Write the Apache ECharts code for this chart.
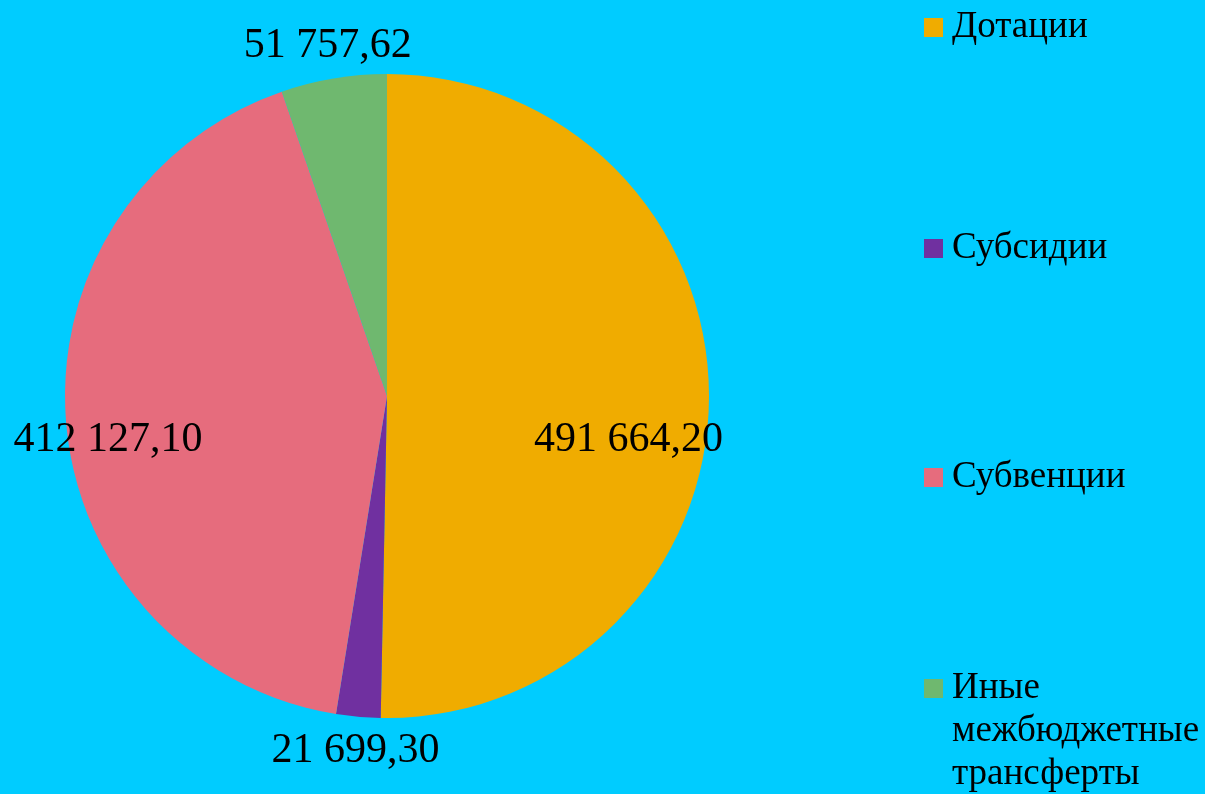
<!DOCTYPE html>
<html>
<head>
<meta charset="utf-8">
<script src="https://cdn.jsdelivr.net/npm/echarts@6/dist/echarts.min.js"></script>
<style>
  html, body { margin: 0; padding: 0; background: #00CCFF; }
  #pieChart { width: 1205px; height: 794px; }
</style>
</head>
<body>
<div id="pieChart"></div>
<script>
// данные диаграммы
var categories = ['Дотации', 'Субсидии', 'Субвенции', 'Иные межбюджетные трансферты'];
var values = [491664.20, 21699.30, 412127.10, 51757.62];
var colors = ['#F0AC00', '#7030A0', '#E66C7D', '#6FB86F'];

// размещение подписей (доля радиуса и сдвиг по вертикали)
var labelRadius = [0.75, 1.1, 0.87, 1.11];
var labelNudge = [42, 2, 20, 2];
// верх каждого пункта легенды
var legendTops = [4, 225, 454, 579];

var cx = 387, cy = 396, r = 322;

function fmt(v) {
	var parts = v.toFixed(2).split('.');
	return parts[0].replace(/\B(?=(\d{3})+(?!\d))/g, ' ') + ',' + parts[1];
}

var total = values.reduce(function (a, b) { return a + b; }, 0);
var midAngles = [];
var acc = 0;
for (var i = 0; i < values.length; i++) {
	midAngles.push((acc + values[i] / 2) / total * 2 * Math.PI);
	acc += values[i];
}

var myChart = echarts.init(document.getElementById('pieChart'));

var legendText = {
	fontSize: 37,
	color: '#000',
	lineHeight: 43,
	padding: [4, 0, 0, 4],
	fontFamily: '"Liberation Serif", serif'
};

// отдельная легенда на каждый пункт
var legends = categories.map(function (c, i) {
	return {
		orient: 'vertical',
		left: 924,
		top: legendTops[i],
		padding: 0,
		itemWidth: 19,
		itemHeight: 19,
		icon: 'rect',
		data: [c],
		formatter: function (name) {
			if (name.indexOf('Иные') === 0) {
				return '\n\nИные\nмежбюджетные\nтрансферты';
			}
			return name;
		},
		textStyle: legendText
	};
});

var option = {
	backgroundColor: '#00CCFF',
	color: colors,
	textStyle: { fontFamily: '"Liberation Serif", "Times New Roman", serif' },
	legend: legends,
	series: [{
		type: 'pie',
		center: [cx, cy],
		radius: [0, r],
		startAngle: 90,
		clockwise: true,
		avoidLabelOverlap: false,
		silent: true,
		data: categories.map(function (c, i) {
			return { name: c, value: values[i] };
		}),
		label: {
			show: true,
			position: 'inside',
			formatter: function (p) { return fmt(p.value); },
			fontSize: 42,
			color: '#000',
			fontFamily: '"Liberation Serif", serif'
		},
		labelLine: { show: false },
		labelLayout: function (p) {
			var k = p.dataIndex;
			var d = labelRadius[k] * r;
			return {
				x: cx + d * Math.sin(midAngles[k]),
				y: cy - d * Math.cos(midAngles[k]) + labelNudge[k],
				align: 'center',
				verticalAlign: 'middle'
			};
		}
	}]
};

myChart.setOption(option);
</script>
</body>
</html>
